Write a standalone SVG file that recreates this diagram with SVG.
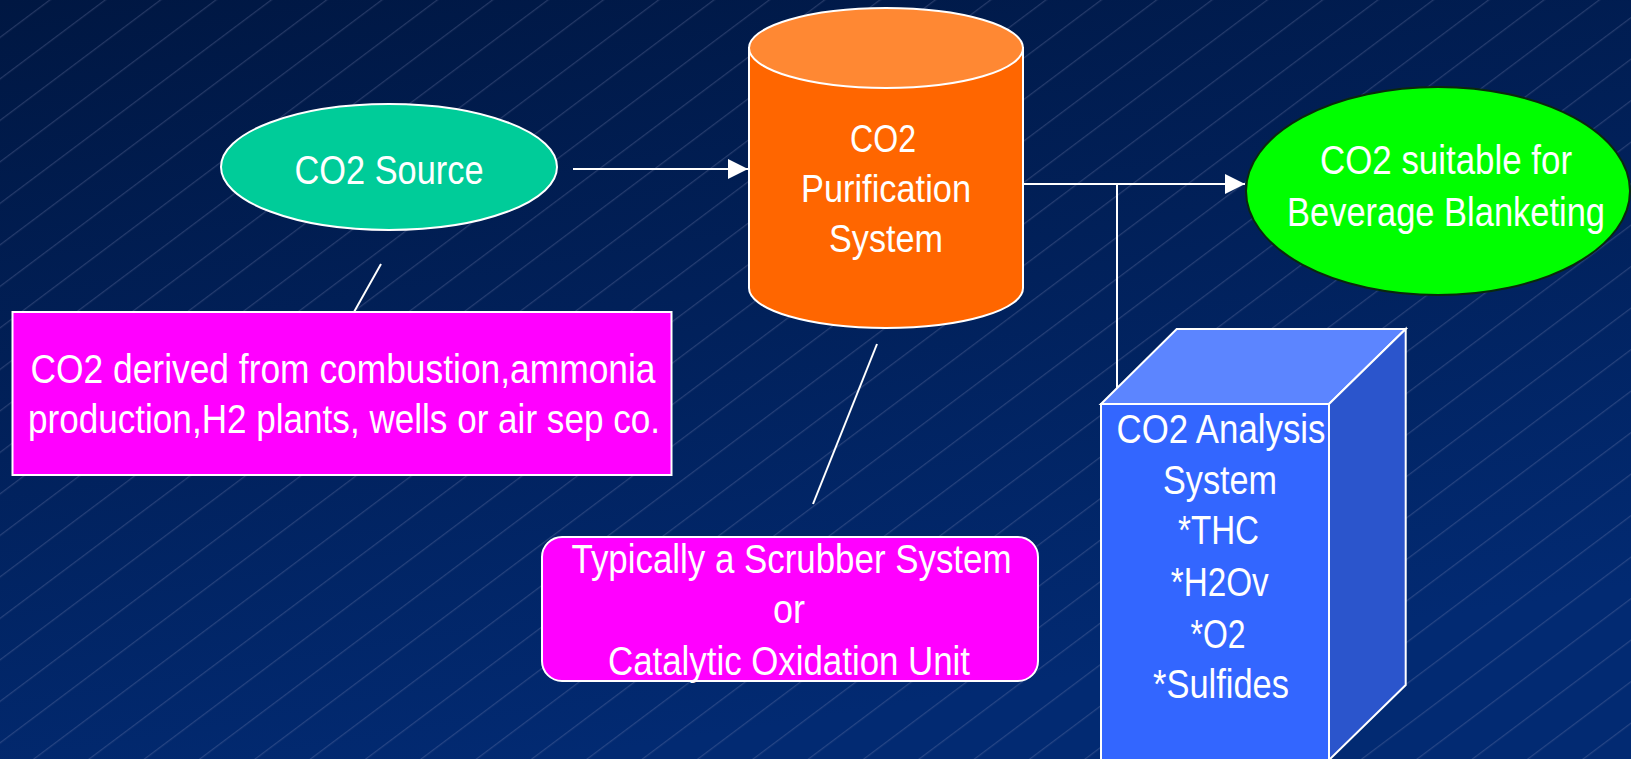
<svg xmlns="http://www.w3.org/2000/svg" width="1631" height="759" viewBox="0 0 1631 759">
<defs>
<linearGradient id="bg" x1="0" y1="0" x2="0.35" y2="1">
<stop offset="0" stop-color="#001742"/>
<stop offset="1" stop-color="#022a72"/>
</linearGradient>
<pattern id="hatch" patternUnits="userSpaceOnUse" width="200" height="33.2" patternTransform="rotate(-36.87)">
<line x1="0" y1="30" x2="200" y2="30" stroke="#8a95bd" stroke-opacity="0.42" stroke-width="0.8"/>
</pattern>
<marker id="arrow" markerUnits="userSpaceOnUse" markerWidth="22" markerHeight="22" refX="20" refY="10" orient="auto">
<path d="M0,0 L20,10 L0,20 Z" fill="#ffffff"/>
</marker>
</defs>
<style>
.t{font-family:"Liberation Sans","Arial",sans-serif;font-size:40px;fill:#ffffff;text-anchor:middle}
.c{font-size:38px}
.ln{stroke:#ffffff;stroke-width:2;fill:none}
.ol{stroke:#ffffff;stroke-width:2}
</style>
<rect x="0" y="0" width="1631" height="759" fill="url(#bg)"/>
<rect x="0" y="0" width="1631" height="759" fill="url(#hatch)"/>

<g id="connectors">
<line class="ln" x1="573" y1="169" x2="748" y2="169" marker-end="url(#arrow)"/>
<line class="ln" x1="1023" y1="184" x2="1245" y2="184" marker-end="url(#arrow)"/>
<line class="ln" x1="1117" y1="184" x2="1117" y2="388"/>
<line class="ln" x1="381" y1="264" x2="354" y2="312"/>
<line class="ln" x1="877" y1="344" x2="813" y2="504"/>
</g>

<g id="co2-source">
<ellipse cx="389" cy="167" rx="168" ry="63" fill="#00CC99" class="ol"/>
<text class="t" x="389" y="184" textLength="189" lengthAdjust="spacingAndGlyphs">CO2 Source</text>
</g>

<g id="purification">
<path d="M749,48 L749,288 A137,40 0 0 0 1023,288 L1023,48 Z" fill="#FF6600" class="ol"/>
<ellipse cx="886" cy="48" rx="137" ry="40" fill="#FF8833" class="ol"/>
<text class="t c" x="883" y="152" textLength="66" lengthAdjust="spacingAndGlyphs">CO2</text>
<text class="t c" x="886" y="202" textLength="170" lengthAdjust="spacingAndGlyphs">Purification</text>
<text class="t c" x="886" y="252" textLength="114" lengthAdjust="spacingAndGlyphs">System</text>
</g>

<g id="beverage">
<ellipse cx="1438" cy="191" rx="192" ry="104" fill="#00FF00" stroke="#0a2a0a" stroke-width="2"/>
<text class="t" x="1446" y="174" textLength="252" lengthAdjust="spacingAndGlyphs">CO2 suitable for</text>
<text class="t" x="1446" y="226" textLength="318" lengthAdjust="spacingAndGlyphs">Beverage Blanketing</text>
</g>

<g id="source-note">
<rect x="12.5" y="312" width="659" height="163" fill="#FF00FF" class="ol"/>
<text class="t" x="343" y="383" textLength="625" lengthAdjust="spacingAndGlyphs">CO2 derived from combustion,ammonia</text>
<text class="t" x="344" y="433" textLength="632" lengthAdjust="spacingAndGlyphs">production,H2 plants, wells or air sep co.</text>
</g>

<g id="purification-note">
<rect x="542" y="537" width="496" height="144" rx="20" ry="20" fill="#FF00FF" class="ol"/>
<text class="t" x="791.5" y="573" textLength="440" lengthAdjust="spacingAndGlyphs">Typically a Scrubber System</text>
<text class="t" x="789" y="623" textLength="32" lengthAdjust="spacingAndGlyphs">or</text>
<text class="t" x="789" y="675" textLength="362" lengthAdjust="spacingAndGlyphs">Catalytic Oxidation Unit</text>
</g>

<g id="analysis">
<polygon points="1101,404 1176.7,329 1405.7,329 1329,404" fill="#5C85FF" class="ol"/>
<polygon points="1329,404 1405.7,329 1405.7,685 1329,760" fill="#2B55CC" class="ol"/>
<rect x="1101" y="404" width="228" height="360" fill="#3366FF" class="ol"/>
<text class="t" x="1221" y="443" textLength="209" lengthAdjust="spacingAndGlyphs">CO2 Analysis</text>
<text class="t" x="1220" y="494" textLength="114" lengthAdjust="spacingAndGlyphs">System</text>
<text class="t" x="1218.5" y="544" textLength="81" lengthAdjust="spacingAndGlyphs">*THC</text>
<text class="t" x="1219.7" y="596" textLength="98" lengthAdjust="spacingAndGlyphs">*H2Ov</text>
<text class="t" x="1218" y="648" textLength="55" lengthAdjust="spacingAndGlyphs">*O2</text>
<text class="t" x="1221" y="698" textLength="136" lengthAdjust="spacingAndGlyphs">*Sulfides</text>
</g>
</svg>
